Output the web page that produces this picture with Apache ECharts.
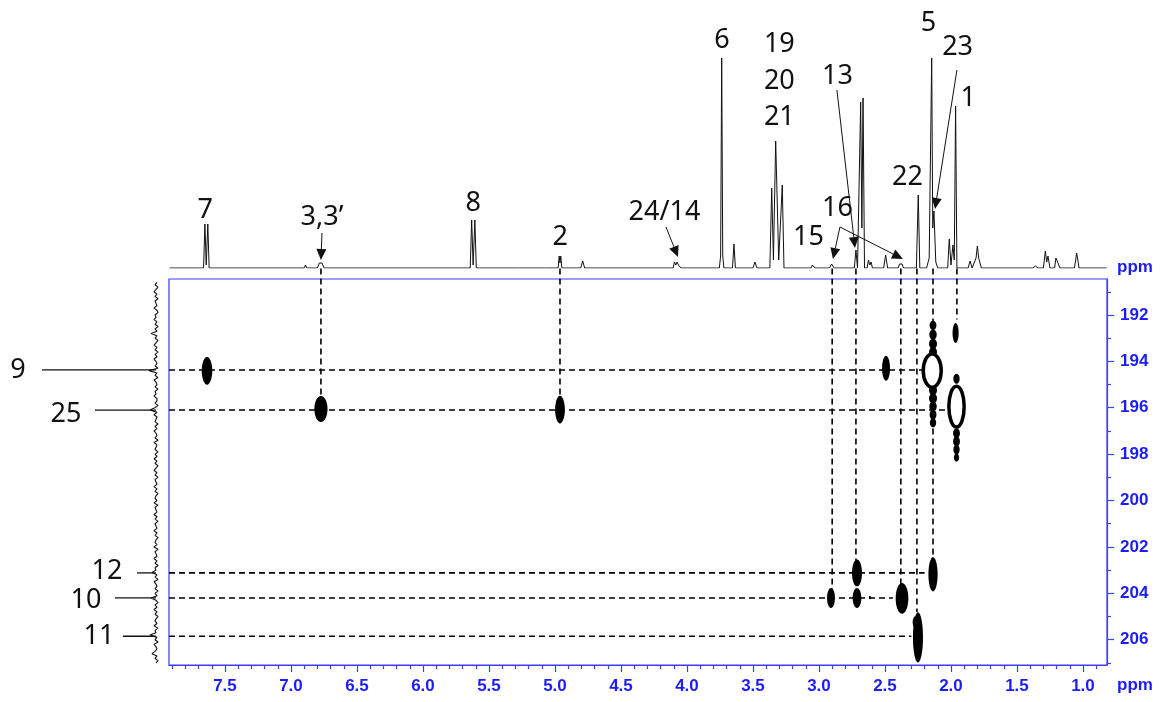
<!DOCTYPE html>
<html>
<head>
<meta charset="utf-8">
<script src="https://cdn.jsdelivr.net/npm/echarts@6.0.0/dist/echarts.min.js"></script>
<style>
  html, body { margin: 0; padding: 0; background: #fff; }
  #main { width: 1163px; height: 702px; }
</style>
</head>
<body>
<div id="main"></div>
<script>
// 1H trace on top: [ppm, intensity]
var protonTrace = [
  [7.92, 0], [7.895, 0], [7.885, 2], [7.875, 0], [7.70, 0],
  [7.662, 0], [7.652, 44], [7.642, 3], [7.630, 44], [7.620, 0],
  [7.455, 0], [7.45, 1.5], [7.445, 0],
  [6.90, 0], [6.89, 3], [6.88, 0],
  [6.80, 0], [6.785, 5], [6.775, 3], [6.765, 5], [6.75, 0],
  [5.642, 0], [5.631, 48], [5.620, 3], [5.607, 48], [5.596, 0],
  [5.29, 0], [5.28, 2], [5.27, 0],
  [5.10, 0], [5.09, 1.5], [5.08, 0],
  [4.976, 0], [4.968, 12], [4.962, 5], [4.956, 12], [4.948, 0],
  [4.805, 0], [4.79, 7], [4.775, 0],
  [4.105, 0], [4.095, 6], [4.085, 3], [4.075, 6], [4.065, 3], [4.055, 5], [4.045, 0],
  [3.755, 0], [3.745, 12], [3.737, 210], [3.729, 12], [3.72, 0],
  [3.655, 0], [3.644, 24], [3.633, 0],
  [3.50, 0], [3.485, 6], [3.47, 0],
  [3.372, 0], [3.358, 80], [3.345, 8], [3.328, 127], [3.305, 8], [3.278, 83], [3.265, 0],
  [3.06, 0], [3.05, 3], [3.04, 3], [3.03, 0],
  [2.92, 0], [2.905, 4], [2.895, 4], [2.885, 0],
  [2.732, 0], [2.720, 18], [2.708, 0],
  [2.695, 0], [2.684, 166], [2.675, 40], [2.666, 170], [2.655, 0],
  [2.635, 0], [2.625, 8], [2.615, 3], [2.605, 6], [2.595, 0],
  [2.51, 0], [2.495, 13], [2.48, 0],
  [2.40, 0], [2.39, 4], [2.38, 3], [2.37, 4], [2.36, 0],
  [2.262, 0], [2.248, 73], [2.236, 0],
  [2.185, 0], [2.165, 10], [2.146, 210], [2.138, 40], [2.129, 57], [2.115, 6], [2.10, 0],
  [2.025, 0], [2.013, 29], [2.000, 3], [1.985, 23], [1.975, 8], [1.965, 162], [1.955, 0],
  [1.87, 0], [1.855, 7], [1.84, 0],
  [1.83, 0], [1.81, 10], [1.80, 22], [1.79, 10], [1.77, 0],
  [1.38, 0], [1.36, 2], [1.34, 0],
  [1.30, 0], [1.285, 17], [1.275, 6], [1.265, 12], [1.25, 0],
  [1.215, 0], [1.205, 10], [1.195, 7], [1.185, 6], [1.175, 0],
  [1.065, 0], [1.055, 8], [1.048, 15], [1.040, 9], [1.030, 0],
  [0.82, 0]
];

// 13C trace on the left: deflection every 0.1 ppm from 190.6
var carbonTraceStart = 190.6;
var carbonTraceStep = 0.1;
var carbonTrace = [
  1, -1, 2, 0, -2, 1, -1, 2, -1, 0, 1, -2, 1, 2, -1, 0, -2, 1, -1, 2,
  -1, 1, -5, 1, -1, 2, 0, -2, 1, -1, 2, -1, 1, -2, 0, 1, -1, 2, -7, 1,
  -1, 2, -2, 0, 1, -1, 2, -1, 0, -2, 1, 1, -1, 2, -1, -6, 1, -2, 1, 0,
  -1, 2, -1, 1, -2, 0, 1, -1, 2, -2, 1, 0, -1, 2, -1, 1, -2, 1, -1, 2,
  0, -2, 1, -1, 2, -1, 0, 1, -2, 1, -1, 2, 0, -1, 1, -2, 2, -1, 0, 1,
  -2, 1, -1, 2, -1, 0, 1, -2, 1, -1, 2, 0, -1, 1, -2, 2, -1, 0, 1, -2,
  1, -1, 2, -1, 0, -4, 1, -1, 2, -2, 0, 1, -1, 2, -1, 1, -5, 0, 2, -1,
  1, -2, 1, -1, 2, 0, -1, 1, -2, 2, -1, 0, -6, 1, -1, 2, -2, 0, 1, -1,
  -4, 1, -1, 2, 0
];

// HMBC cross peaks: [1H ppm, 13C ppm, 1H half width, 13C half width]
var crossPeaks = [
  [7.636, 194.41, 0.040, 0.60],
  [6.773, 196.05, 0.050, 0.56],
  [4.962, 196.08, 0.037, 0.60],
  [2.492, 194.30, 0.030, 0.54],
  [1.965, 192.78, 0.023, 0.43],
  [2.712, 203.12, 0.038, 0.58],
  [2.136, 203.18, 0.035, 0.74],
  [2.909, 204.20, 0.030, 0.43],
  [2.712, 204.20, 0.033, 0.43],
  [2.371, 204.22, 0.048, 0.66],
  [2.250, 205.90, 0.038, 1.08],
  [2.272, 205.25, 0.018, 0.25],
  [2.614, 204.18, 0.008, 0.08]
];
var strongPeaks = [
  [2.142, 194.40, 0.068, 0.72],
  [1.958, 195.95, 0.058, 0.88]
];
var ridgePeaks = [
  [2.136, 192.45, 0.026, 0.20], [2.136, 192.85, 0.028, 0.22], [2.136, 193.25, 0.030, 0.22],
  [2.136, 193.60, 0.030, 0.22], [2.136, 195.25, 0.030, 0.22], [2.136, 195.60, 0.030, 0.22],
  [2.136, 195.95, 0.028, 0.22], [2.136, 196.30, 0.026, 0.22], [2.136, 196.65, 0.024, 0.20],
  [1.958, 194.75, 0.024, 0.22], [1.958, 197.10, 0.026, 0.22], [1.958, 197.45, 0.026, 0.22],
  [1.958, 197.80, 0.024, 0.22], [1.958, 198.15, 0.020, 0.18]
];

// carbonyl carbons and where their correlation guide stops (1H ppm)
var carbonNames = ['9', '25', '12', '10', '11'];
var carbonShifts = [194.37, 196.10, 203.12, 204.20, 205.85];
var carbonGuideEnd = [2.20, 2.00, 2.20, 2.44, 2.30];

// protons with vertical guides and where they stop (13C ppm)
var protonGuides = [6.773, 4.962, 2.900, 2.720, 2.380, 2.258, 2.136, 1.955];
var protonGuideEnd = [195.45, 195.45, 203.85, 202.60, 203.60, 204.80, 202.60, 192.20];

// proton assignments on the 1H trace
var protonNames = ['7', '3,3\u2019', '8', '2', '24/14', '6', '19', '20', '21', '13', '16', '15', '22', '5', '23', '1'];
var protonNamePpm = [7.65, 6.765, 5.62, 4.96, 4.17, 3.735, 3.30, 3.30, 3.30, 2.86, 2.86, 3.08, 2.33, 2.17, 1.95, 1.87];
var protonNameHeight = [58, 51, 65, 31, 56, 228, 224, 187, 151, 192, 60, 31, 91, 245, 221, 170];

// arrows: [from ppm, from intensity, to ppm, to intensity]
var arrows = [
  [6.765, 35, 6.773, 8],
  [4.159, 41, 4.068, 11],
  [2.841, 41, 2.894, 9],
  [2.841, 41, 2.364, 9],
  [2.864, 178, 2.727, 20],
  [1.955, 198, 2.121, 59]
];

var xTicks = [7.5, 7.0, 6.5, 6.0, 5.5, 5.0, 4.5, 4.0, 3.5, 3.0, 2.5, 2.0, 1.5, 1.0];
var yTicks = [192, 194, 196, 198, 200, 202, 204, 206];

var xMin = 0.818, xMax = 7.924;
var yMin = 190.45, yMax = 207.09;
var blue = '#3d3dff';
var labelBlue = '#1c1cf5';

var xMinor = [];
for (var t = 9; t <= 79; t++) { if (t % 5 !== 0) xMinor.push(t / 10); }
var yMinor = [191, 193, 195, 197, 199, 201, 203, 205, 207];

var myChart = echarts.init(document.getElementById('main'));

function ellipse(api, fill, stroke, lw) {
  var c = api.coord([api.value(0), api.value(1)]);
  var s = api.size([api.value(2), api.value(3)]);
  return {
    type: 'ellipse',
    shape: { cx: c[0], cy: c[1], rx: Math.abs(s[0]), ry: Math.abs(s[1]) },
    style: { fill: fill, stroke: stroke, lineWidth: lw }
  };
}

function textEl(x, y, text, font, color, align) {
  return {
    type: 'text',
    x: x, y: y,
    style: {
      text: text, font: font, fill: color,
      textAlign: align || 'center', textVerticalAlign: 'middle',
      align: align || 'center', verticalAlign: 'middle'
    }
  };
}

var dashStyle = { stroke: '#000', lineWidth: 1.6, lineDash: [6, 4] };
var labelFont = '27px "Noto Sans", "Open Sans", sans-serif';

myChart.setOption({
  animation: false,
  grid: [
    { left: 169, top: 279, width: 938, height: 386, show: true, borderColor: blue, borderWidth: 1.2, backgroundColor: 'transparent' },
    { left: 169, top: 10, width: 938, height: 258 },
    { left: 136, top: 279, width: 40, height: 386 }
  ],
  xAxis: [
    {
      gridIndex: 0, type: 'value', min: xMin, max: xMax, inverse: true, position: 'bottom',
      axisLine: { show: true, lineStyle: { color: blue, width: 1.2 } },
      axisTick: { show: true, customValues: xTicks, length: 7, lineStyle: { color: blue, width: 1.2 } },
      axisLabel: {
        customValues: xTicks, margin: 13, color: labelBlue,
        fontFamily: 'Liberation Sans', fontWeight: 'bold', fontSize: 17,
        formatter: function (v) { return v.toFixed(1); }
      },
      splitLine: { show: false }
    },
    {
      gridIndex: 0, type: 'value', min: xMin, max: xMax, inverse: true, position: 'bottom',
      axisLine: { show: false },
      axisTick: { show: true, customValues: xMinor, length: 4, lineStyle: { color: blue, width: 1.2 } },
      axisLabel: { show: false },
      splitLine: { show: false }
    },
    { gridIndex: 1, type: 'value', min: xMin, max: xMax, inverse: true, show: false },
    { gridIndex: 2, type: 'value', min: -20, max: 20, show: false }
  ],
  yAxis: [
    {
      gridIndex: 0, type: 'value', min: yMin, max: yMax, inverse: true, position: 'right',
      axisLine: { show: true, lineStyle: { color: blue, width: 1.2 } },
      axisTick: { show: true, customValues: yTicks, length: 7, lineStyle: { color: blue, width: 1.2 } },
      axisLabel: {
        customValues: yTicks, margin: 13, color: labelBlue,
        fontFamily: 'Liberation Sans', fontWeight: 'bold', fontSize: 17
      },
      splitLine: { show: false }
    },
    {
      gridIndex: 0, type: 'value', min: yMin, max: yMax, inverse: true, position: 'right',
      axisLine: { show: false },
      axisTick: { show: true, customValues: yMinor, length: 4, lineStyle: { color: blue, width: 1.2 } },
      axisLabel: { show: false },
      splitLine: { show: false }
    },
    { gridIndex: 1, type: 'value', min: 0, max: 258, show: false },
    { gridIndex: 2, type: 'value', min: yMin, max: yMax, inverse: true, show: false }
  ],
  graphic: [
    { type: 'text', left: 1117, top: 259, style: { text: 'ppm', font: 'bold 17px "Liberation Sans"', fill: labelBlue } },
    { type: 'text', left: 1117, top: 677, style: { text: 'ppm', font: 'bold 17px "Liberation Sans"', fill: labelBlue } }
  ],
  series: [
    {
      // top 1H trace
      type: 'line', xAxisIndex: 2, yAxisIndex: 2,
      data: protonTrace, showSymbol: false, symbol: 'none', sampling: null,
      lineStyle: { color: '#111', width: 1 }, silent: true
    },
    {
      // left 13C trace
      type: 'line', xAxisIndex: 3, yAxisIndex: 3,
      data: carbonTrace.map(function (v, i) { return [v, carbonTraceStart + i * carbonTraceStep]; }),
      showSymbol: false, symbol: 'none',
      lineStyle: { color: '#111', width: 1.1 }, silent: true
    },
    {
      // horizontal guides from carbonyl carbons
      type: 'custom', xAxisIndex: 0, yAxisIndex: 0, clip: false, silent: true,
      data: carbonShifts.map(function (c, i) { return [xMax, c, carbonGuideEnd[i]]; }),
      renderItem: function (params, api) {
        var a = api.coord([api.value(0), api.value(1)]);
        var b = api.coord([api.value(2), api.value(1)]);
        return { type: 'line', shape: { x1: a[0], y1: a[1], x2: b[0], y2: b[1] }, style: dashStyle };
      }
    },
    {
      // vertical guides from protons
      type: 'custom', xAxisIndex: 0, yAxisIndex: 0, clip: false, silent: true,
      data: protonGuides.map(function (p, i) { return [p, 190.0, protonGuideEnd[i]]; }),
      renderItem: function (params, api) {
        var a = api.coord([api.value(0), api.value(1)]);
        var b = api.coord([api.value(0), api.value(2)]);
        return { type: 'line', shape: { x1: a[0], y1: a[1], x2: b[0], y2: b[1] }, style: dashStyle };
      }
    },
    {
      type: 'custom', xAxisIndex: 0, yAxisIndex: 0, silent: true,
      data: ridgePeaks,
      renderItem: function (params, api) { return ellipse(api, '#000', null, 0); }
    },
    {
      type: 'custom', xAxisIndex: 0, yAxisIndex: 0, silent: true,
      data: strongPeaks,
      renderItem: function (params, api) { return ellipse(api, '#fff', '#000', 3.5); }
    },
    {
      type: 'custom', xAxisIndex: 0, yAxisIndex: 0, silent: true,
      data: crossPeaks,
      renderItem: function (params, api) { return ellipse(api, '#000', null, 0); }
    },
    {
      // carbon labels with leaders, left of the 13C trace
      type: 'custom', xAxisIndex: 3, yAxisIndex: 3, clip: false, silent: true,
      data: carbonShifts.map(function (c, i) { return [i, c]; }),
      renderItem: function (params, api) {
        var leader = [114, 61, 19, 41, 33];
        var textGap = [24, 29, 30, 29, 24];
        var textDy = [0, 4, -2, 2, 0];
        var i = api.value(0);
        var p = api.coord([0, api.value(1)]);
        var x0 = p[0] - leader[i];
        return {
          type: 'group',
          children: [
            { type: 'line', shape: { x1: x0, y1: p[1], x2: p[0], y2: p[1] }, style: { stroke: '#111', lineWidth: 1.3 } },
            textEl(x0 - textGap[i], p[1] + textDy[i], carbonNames[i], labelFont, '#111')
          ]
        };
      }
    },
    {
      // proton labels over the 1H trace
      type: 'custom', xAxisIndex: 2, yAxisIndex: 2, clip: false, silent: true,
      data: protonNames.map(function (n, i) { return [protonNamePpm[i], protonNameHeight[i], i]; }),
      renderItem: function (params, api) {
        var p = api.coord([api.value(0), api.value(1)]);
        return textEl(p[0], p[1], protonNames[api.value(2)], labelFont, '#111');
      }
    },
    {
      // arrows
      type: 'custom', xAxisIndex: 2, yAxisIndex: 2, clip: false, silent: true,
      data: arrows,
      renderItem: function (params, api) {
        var a = api.coord([api.value(0), api.value(1)]);
        var b = api.coord([api.value(2), api.value(3)]);
        var dx = b[0] - a[0], dy = b[1] - a[1];
        var len = Math.sqrt(dx * dx + dy * dy);
        var ux = dx / len, uy = dy / len;
        var hl = 11, hw = 5;
        var bx = b[0] - ux * hl, by = b[1] - uy * hl;
        return {
          type: 'group',
          children: [
            { type: 'line', shape: { x1: a[0], y1: a[1], x2: bx, y2: by }, style: { stroke: '#111', lineWidth: 1 } },
            { type: 'polygon', shape: { points: [[b[0], b[1]], [bx - uy * hw, by + ux * hw], [bx + uy * hw, by - ux * hw]] }, style: { fill: '#111' } }
          ]
        };
      }
    }
  ]
});

window.onresize = function () {
  myChart.resize();
};
</script>
</body>
</html>
